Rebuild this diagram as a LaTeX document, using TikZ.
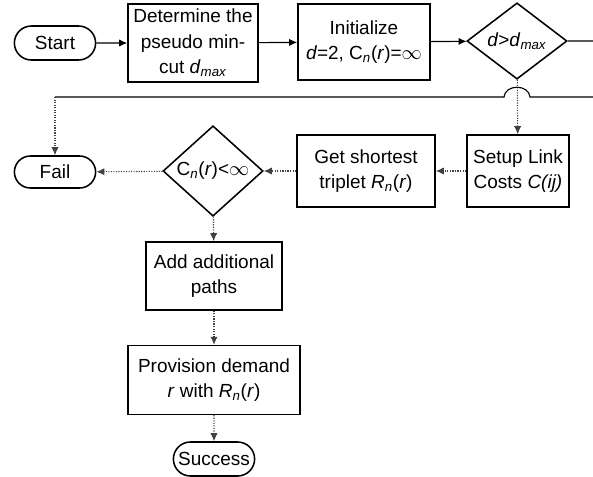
\documentclass[tikz,border=0pt]{standalone}
\usepackage{fontspec}
\setmainfont{Liberation Sans}
\usetikzlibrary{shapes.geometric,shapes.misc,arrows.meta}

\tikzset{
    term/.style={draw, line width=1.1pt, rounded rectangle, minimum width=2.1cm, minimum height=0.85cm, inner sep=1pt},
    proc/.style={draw, line width=1.1pt, rectangle, align=center, inner sep=1pt},
    decide/.style={draw, line width=1.1pt, diamond, minimum width=2.5cm, minimum height=1.75cm, inner sep=0pt},
    flow/.style={line width=0.8pt, -{Latex[length=2mm, width=1.8mm]}},
    flowdot/.style={flow, densely dotted, draw=black!75}
}

\begin{document}
\begin{tikzpicture}[x=0.025cm, y=-0.025cm, font=\fontsize{13.5}{18}\selectfont]
    \useasboundingbox (0,0) rectangle (593,476);

    % Top row
    \node[term] (start) at (55,43) {Start};
    \node[proc, minimum width=3.25cm, minimum height=1.95cm] (cutbox) at (193,43)
        {Determine the\\ pseudo min-\\ cut \textit{d}\textsubscript{\textit{max}}};
    \node[proc, minimum width=3.3cm, minimum height=1.9cm] (initbox) at (364,42)
        {Initialize\\ \textit{d}=2, C\textsubscript{\textit{n}}(\textit{r})=$\infty$};
    \node[decide] (dtest) at (517,41) {\textit{d}>\textit{d}\textsubscript{\textit{max}}};

    % Second row
    \node[proc, minimum width=2.55cm, minimum height=1.8cm] (linkbox) at (518,171)
        {Setup Link\\ Costs \textit{C(ij)}};
    \node[proc, minimum width=3.45cm, minimum height=1.8cm] (pathbox) at (366,171)
        {Get shortest\\ triplet \textit{R\textsubscript{n}}(\textit{r})};
    \node[decide, minimum height=1.8cm] (ctest) at (213,171) {C\textsubscript{\textit{n}}(\textit{r})<$\infty$};
    \node[term, minimum height=0.8cm] (fail) at (55,172) {Fail};

    % Down the middle
    \node[proc, minimum width=3.4cm, minimum height=1.7cm] (addbox) at (214,276)
        {Add additional\\ paths};
    \node[proc, minimum width=4.3cm, minimum height=1.72cm] (provbox) at (214,380)
        {Provision demand\\ \textit{r} with \textit{R\textsubscript{n}}(\textit{r})};
    \node[term, minimum width=2.1cm] (success) at (214,459) {Success};

    % Connectors
    \draw[flow] (start) -- (cutbox);
    \draw[flow] (cutbox) -- (initbox);
    \draw[flow] (initbox) -- (dtest);
    \draw[flowdot] (dtest) -- (linkbox);
    \draw[flowdot] (linkbox) -- (pathbox);
    \draw[flowdot] (pathbox) -- (ctest);
    \draw[flowdot] (ctest) -- (fail);
    \draw[flowdot] (ctest) -- (addbox);
    \draw[flowdot] (addbox) -- (provbox);
    \draw[flowdot] (provbox) -- (success);

    % Loop back to Fail, hopping over the vertical line
    \coordinate (outA) at (605,41);
    \coordinate (hopR) at (530,97);
    \coordinate (hopL) at (504,97);
    \coordinate (failturn) at (55,97);
    \draw[line width=0.8pt] (dtest.east) -- (outA) |- (hopR)
        .. controls (529,84) and (505,84) .. (hopL) -- (failturn);
    \draw[flowdot] (failturn) -- (fail.north);
\end{tikzpicture}
\end{document}
